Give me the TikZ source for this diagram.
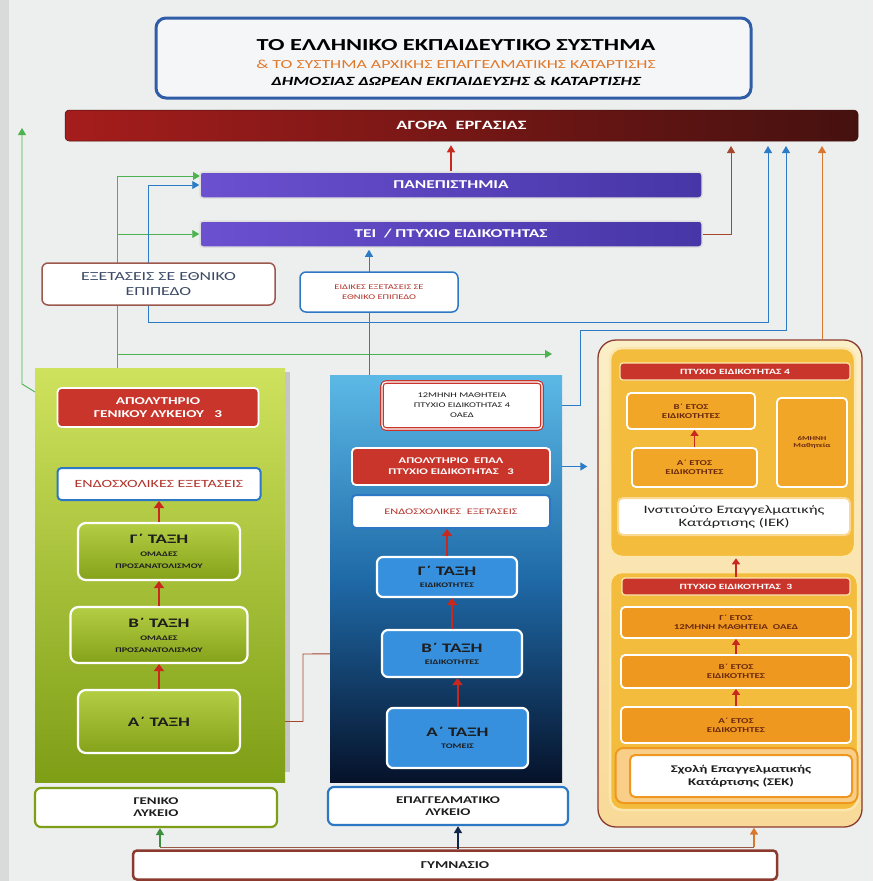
\documentclass[tikz,border=0pt]{standalone}
\usepackage{fontspec}
\setmainfont{Carlito}[FakeStretch=1.45]
\usetikzlibrary{arrows.meta}
\pgfdeclarelayer{back}
\pgfdeclarelayer{wires}
\pgfsetlayers{back,wires,main}

\definecolor{pagebg}{HTML}{EDEFEE}
\definecolor{edgegray}{HTML}{D9DADA}
\definecolor{titleblue}{HTML}{2F5DA8}
\definecolor{titlefill}{HTML}{F5F6F8}
\definecolor{titleorange}{HTML}{E0782A}
\definecolor{marketL}{HTML}{A51D1C}
\definecolor{marketR}{HTML}{45110F}
\definecolor{uniL}{HTML}{6B50D0}
\definecolor{uniR}{HTML}{4636A6}
\definecolor{boxred}{HTML}{C9352B}
\definecolor{greenT}{HTML}{CFE25E}
\definecolor{greenB}{HTML}{7E9E16}
\definecolor{grnboxT}{HTML}{B4CE44}
\definecolor{grnboxB}{HTML}{84A21A}
\definecolor{blueT}{HTML}{5CB9E6}
\definecolor{blueM}{HTML}{1F6AA8}
\definecolor{blueB}{HTML}{06122A}
\definecolor{bluebx}{HTML}{3690DE}
\definecolor{blueframe}{HTML}{2C78C4}
\definecolor{orbox}{HTML}{F2A628}
\definecolor{orboxdeep}{HTML}{EE9820}
\definecolor{yellowgrp}{HTML}{F4BC3C}
\definecolor{grpframe}{HTML}{FBE6AE}
\definecolor{creamfill}{HTML}{FBEFC8}
\definecolor{brownline}{HTML}{8C3A2E}
\definecolor{arrowred}{HTML}{C8281E}
\definecolor{wgreen}{HTML}{4CB350}
\definecolor{wblue}{HTML}{2B7BC6}
\definecolor{wbrown}{HTML}{A5472E}
\definecolor{worange}{HTML}{D8782E}
\definecolor{navyarrow}{HTML}{12264A}
\definecolor{textdark}{HTML}{1E1E1E}
\definecolor{textred}{HTML}{B2322A}
\definecolor{examtext}{HTML}{3B4A66}
\definecolor{ortext}{HTML}{6B2A0E}

\newcommand{\bxbig}{\fontsize{13}{14}\selectfont\bfseries}
\newcommand{\bxmid}{\fontsize{10.3}{12}\selectfont\bfseries}
\newcommand{\bxsmall}{\fontsize{7}{8.5}\selectfont\bfseries}
\newcommand{\bxtiny}{\fontsize{7.5}{9}\selectfont\bfseries}

\tikzset{every picture/.style={line width=0.75pt}}
\tikzset{
  sz/.style 2 args={minimum width=#1, minimum height=#2},
  bar/.style={rounded corners=4pt, inner sep=0pt, text=white, font=\fontsize{12}{13}\selectfont\bfseries},
  marketbar/.style={bar, left color=marketL, right color=marketR, draw=marketR, line width=0.5pt},
  unibar/.style={bar, left color=uniL, right color=uniR, draw=gray!25, line width=1.5pt, rounded corners=3pt},
  titlebox/.style={rounded corners=10pt, fill=titlefill, draw=titleblue, line width=3pt},
  notebox/.style={rounded corners=6pt, fill=white, align=center, inner sep=1pt},
  examsbox/.style={notebox, draw=brownline!85, line width=1.5pt, text=examtext, font=\fontsize{12.3}{15}\selectfont},
  specbox/.style={notebox, draw=blueframe, line width=1.5pt, text=textred, font=\fontsize{7.2}{10}\selectfont},
  endobox/.style={notebox, rounded corners=4pt, draw=blueframe, line width=2pt, text=textred, font=\fontsize{11}{12}\selectfont},
  redbox/.style={rounded corners=4pt, fill=boxred, draw=white, line width=1.8pt, text=white, align=center, inner sep=1pt, font=\fontsize{8.7}{11}\selectfont\bfseries},
  greenbox/.style={rounded corners=8pt, top color=grnboxT, bottom color=grnboxB, draw=white, line width=2.2pt, align=center, inner sep=1pt, text=textdark},
  bluebox/.style={rounded corners=6pt, fill=bluebx, draw=white, line width=2.2pt, align=center, inner sep=1pt, text=textdark},
  lykbox/.style={rounded corners=6pt, fill=white, line width=2.2pt, align=center, inner sep=1pt, text=textdark, font=\bxmid},
  orangebox/.style={rounded corners=4pt, fill=orbox, draw=white, line width=1.8pt, align=center, inner sep=1pt, text=ortext, font=\bxtiny},
  barsmall/.style={rounded corners=3pt, fill=boxred, draw=grpframe, line width=1.2pt, text=white, inner sep=0pt, font=\fontsize{8}{9}\selectfont\bfseries},
  wire/.style={line width=0.9pt, -{Triangle[width=8pt,length=7pt]}},
  upred/.style={draw=arrowred, line width=2pt, -{Triangle[width=10pt,length=7pt]}},
  upsmall/.style={draw=arrowred, line width=1.5pt, -{Triangle[width=8pt,length=6pt]}},
}

\begin{document}
\begin{tikzpicture}[x=1pt,y=1pt,yscale=-1,xscale=1]
\useasboundingbox (0,0) rectangle (873,881);
\begin{pgfonlayer}{back}
  \fill[pagebg] (0,0) rectangle (873,881);
  \fill[edgegray] (0,0) rectangle (9,881);
  %Shape: shadow of the left column
  \fill[gray!45] (280,372) rectangle (290,772);
\end{pgfonlayer}

%Shape: title frame
\node[titlebox, sz={595}{80}] (title) at (453.5,58) {};
% Text Node
\node[font=\fontsize{16.8}{18}\selectfont\bfseries] (titleA) at (456,45) {ΤΟ ΕΛΛΗΝΙΚΟ ΕΚΠΑΙΔΕΥΤΙΚΟ ΣΥΣΤΗΜΑ};
% Text Node
\node[text=titleorange, font=\fontsize{12.3}{14}\selectfont] (titleB) at (456,64) {\& ΤΟ ΣΥΣΤΗΜΑ ΑΡΧΙΚΗΣ ΕΠΑΓΓΕΛΜΑΤΙΚΗΣ ΚΑΤΑΡΤΙΣΗΣ};
% Text Node
\node[font=\fontsize{12.5}{14}\selectfont\bfseries\itshape] (titleC) at (456,81) {ΔΗΜΟΣΙΑΣ ΔΩΡΕΑΝ ΕΚΠΑΙΔΕΥΣΗΣ \& ΚΑΤΑΡΤΙΣΗΣ};

%Shape: bars on top
\node[marketbar, sz={793}{31}, font=\fontsize{12.7}{14}\selectfont\bfseries] (market) at (461.5,125.5) {ΑΓΟΡΑ~~ΕΡΓΑΣΙΑΣ};
\node[unibar, sz={502}{26}] (uni) at (451,185) {ΠΑΝΕΠΙΣΤΗΜΙΑ};
\node[unibar, sz={502}{26}] (tei) at (451,234) {ΤΕΙ~~/ ΠΤΥΧΙΟ ΕΙΔΙΚΟΤΗΤΑΣ};

%Shape: exams notes
\node[examsbox, sz={233}{42}] (exams) at (158.5,284) {ΕΞΕΤΑΣΕΙΣ ΣΕ ΕΘΝΙΚΟ\\ΕΠΙΠΕΔΟ};
\node[specbox, sz={158}{40}] (specexams) at (379,292) {ΕΙΔΙΚΕΣ ΕΞΕΤΑΣΕΙΣ ΣΕ\\ΕΘΝΙΚΟ ΕΠΙΠΕΔΟ};

%Shape: general lyceum column
\node[top color=greenT, bottom color=greenB, sz={250}{414}, inner sep=0pt] (greencol) at (160,575) {};
\node[redbox, sz={201}{39}, font=\fontsize{10.5}{12.5}\selectfont\bfseries] (genapol) at (158,407.5) {ΑΠΟΛΥΤΗΡΙΟ\\ΓΕΝΙΚΟΥ ΛΥΚΕΙΟΥ~~~3};
\node[endobox, sz={203}{32}] (genendo) at (159,484) {ΕΝΔΟΣΧΟΛΙΚΕΣ ΕΞΕΤΑΣΕΙΣ};
\node[greenbox, sz={162}{57}] (genC) at (159,551.5) {{\bxbig Γ΄ ΤΑΞΗ}\\[1pt]{\bxsmall ΟΜΑΔΕΣ}\\{\bxsmall ΠΡΟΣΑΝΑΤΟΛΙΣΜΟΥ}};
\node[greenbox, sz={177}{56}] (genB) at (159,635) {{\bxbig Β΄ ΤΑΞΗ}\\[1pt]{\bxsmall ΟΜΑΔΕΣ}\\{\bxsmall ΠΡΟΣΑΝΑΤΟΛΙΣΜΟΥ}};
\node[greenbox, sz={162}{63}] (genA) at (159,721.5) {\bxbig Α΄ ΤΑΞΗ};
\node[lykbox, draw=greenB, sz={242}{39}] (genlyk) at (156,807.5) {ΓΕΝΙΚΟ\\ΛΥΚΕΙΟ};

%Shape: vocational lyceum column
\node[top color=blueT, bottom color=blueB, middle color=blueM, sz={232}{407}, inner sep=0pt] (bluecol) at (446,578.5) {};
\node[notebox, rounded corners=4pt, draw=boxred, double=white, double distance=1.2pt, line width=1.2pt, sz={160}{47}, text=textdark, font=\fontsize{7.2}{10}\selectfont] (mathiteia) at (462,405.5) {12ΜΗΝΗ ΜΑΘΗΤΕΙΑ\\ΠΤΥΧΙΟ ΕΙΔΙΚΟΤΗΤΑΣ 4\\ΟΑΕΔ};
\node[redbox, sz={198}{37}] (epalapol) at (451,466.5) {ΑΠΟΛΥΤΗΡΙΟ~~ΕΠΑΛ\\ΠΤΥΧΙΟ ΕΙΔΙΚΟΤΗΤΑΣ~~~3};
\node[endobox, sz={198}{33}, font=\fontsize{8.5}{10}\selectfont] (epalendo) at (451,511.5) {ΕΝΔΟΣΧΟΛΙΚΕΣ~~ΕΞΕΤΑΣΕΙΣ};
\node[bluebox, sz={140}{40}] (epalC) at (447,577) {{\bxbig Γ΄ ΤΑΞΗ}\\{\bxsmall ΕΙΔΙΚΟΤΗΤΕΣ}};
\node[bluebox, sz={140}{47}] (epalB) at (452,653.5) {{\bxbig Β΄ ΤΑΞΗ}\\{\bxsmall ΕΙΔΙΚΟΤΗΤΕΣ}};
\node[bluebox, sz={141}{60}] (epalA) at (457.5,738) {{\bxbig Α΄ ΤΑΞΗ}\\{\bxsmall ΤΟΜΕΙΣ}};
\node[lykbox, draw=blueframe, sz={240}{38}] (epallyk) at (448,806) {ΕΠΑΓΓΕΛΜΑΤΙΚΟ\\ΛΥΚΕΙΟ};

%Shape: gymnasium
\node[lykbox, rounded corners=4pt, draw=brownline, line width=2.5pt, sz={644}{29}, font=\fontsize{10.5}{12}\selectfont\bfseries] (gym) at (455,865) {ΓΥΜΝΑΣΙΟ};

%Shape: vocational training column
\node[rounded corners=18pt, top color=creamfill, bottom color=creamfill!70!orbox, draw=brownline, line width=1.3pt, sz={264}{487}, inner sep=0pt] (rcol) at (730,583.5) {};
\node[rounded corners=12pt, fill=yellowgrp, draw=grpframe, line width=2.5pt, sz={245}{209}, inner sep=0pt] (iekgrp) at (732.5,452.5) {};
\node[barsmall, sz={230}{17}] (iekbar) at (735,371.5) {ΠΤΥΧΙΟ ΕΙΔΙΚΟΤΗΤΑΣ 4};
\node[orangebox, sz={128}{36}] (iekB) at (691,411) {Β΄ ΕΤΟΣ\\ΕΙΔΙΚΟΤΗΤΕΣ};
\node[orangebox, sz={125}{39}] (iekA) at (694.5,467.5) {Α΄ ΕΤΟΣ\\ΕΙΔΙΚΟΤΗΤΕΣ};
\node[orangebox, sz={70}{89}, font=\fontsize{6}{7}\selectfont\bfseries] (iek6) at (812,442.5) {6ΜΗΝΗ\\Μαθητεία};
\node[notebox, rounded corners=5pt, draw=grpframe!80!orbox, line width=2pt, sz={232}{37}, text=textdark, font=\fontsize{11.3}{13}\selectfont] (iekname) at (734,516.5) {Ινστιτούτο Επαγγελματικής\\Κατάρτισης (ΙΕΚ)};

\node[rounded corners=12pt, fill=yellowgrp, draw=grpframe, line width=2.5pt, sz={248}{238}, inner sep=0pt] (sekgrp) at (734,691) {};
\node[barsmall, sz={228}{17}] (sekbar) at (736,586.5) {ΠΤΥΧΙΟ ΕΙΔΙΚΟΤΗΤΑΣ~~3};
\node[orangebox, fill=orboxdeep, sz={230}{31}] (sekC) at (736,622.5) {Γ΄ ΕΤΟΣ\\12ΜΗΝΗ ΜΑΘΗΤΕΙΑ~~ΟΑΕΔ};
\node[orangebox, fill=orboxdeep, sz={230}{33}] (sekB) at (736,671.5) {Β΄ ΕΤΟΣ\\ΕΙΔΙΚΟΤΗΤΕΣ};
\node[orangebox, fill=orboxdeep, sz={230}{36}] (sekA) at (736,725) {Α΄ ΕΤΟΣ\\ΕΙΔΙΚΟΤΗΤΕΣ};
\node[rounded corners=8pt, fill=orbox!55!white, draw=orboxdeep, line width=2pt, sz={242}{55}, inner sep=0pt] (sekframe) at (736.5,775.5) {};
\node[notebox, rounded corners=5pt, draw=orboxdeep, line width=2pt, sz={222}{42}, text=textdark, font=\fontsize{10.2}{12.5}\selectfont\bfseries] (sekname) at (741,776) {Σχολή Επαγγελματικής\\Κατάρτισης (ΣΕΚ)};

% connector ends
\coordinate (mkA) at (731,141);
\coordinate (mkB) at (768,141);
\coordinate (mkC) at (786,141);
\coordinate (mkD) at (822,141);
\coordinate (gUp) at (117,368);
\coordinate (gEnd) at (552,354);
\coordinate (gUni) at (200,176);
\coordinate (gTop) at (22,128);
\coordinate (gBend) at (22,384);
\coordinate (gSide) at (35,392);
\coordinate (bJoin) at (148,322);
\coordinate (bEpal) at (369,448);
\coordinate (bKnee) at (580,330);
\coordinate (rKnee) at (303,654);
\coordinate (busL) at (160,847);
\coordinate (busM) at (458,847);
\coordinate (busR) at (754,847);

\begin{pgfonlayer}{wires}
  %Straight Lines: green
  \draw[wire, draw=wgreen] (gSide) -- (gBend) -- (gTop);
  \draw[wire, draw=wgreen] (gUp) |- (gUni);
  \draw[wire, draw=wgreen] (gUp) |- (tei.west);
  \draw[wire, draw=wgreen] (gUp |- gEnd) -- (gEnd);
  %Straight Lines: blue
  \draw[wire, draw=wblue] (bJoin) |- (uni.west);
  \draw[wire, draw=wblue, shorten >=5pt] (bJoin) -| (mkB);
  \draw[wire, draw=wblue, shorten >=2pt] (bEpal) -- (bEpal |- tei.south);
  \draw[wire, draw=wblue, shorten >=5pt] (mathiteia.east) -| (bKnee) -| (mkC);
  \draw[wire, draw=wblue, line width=1.3pt, shorten >=10pt] (epalapol.east) -- (epalapol.east -| rcol.west);
  %Straight Lines: brown and orange
  \draw[wire, draw=wbrown, shorten >=5pt] (tei.east) -| (mkA);
  \draw[wire, draw=worange, shorten >=5pt] (mkD |- rcol.north) -- (mkD);
  \draw[wire, draw=wbrown] (genA.east) -| (rKnee) -- (epalB.west);
  \draw[wire, draw=arrowred, line width=1.2pt, shorten >=4pt] (uni.north) -- (uni.north |- market.south);
  %Straight Lines: from the gymnasium
  \draw[line width=1pt, draw=wbrown!70!gray] (busL) -- (busR);
  \draw[wire, draw=wgreen!80!black, line width=1.6pt] (busL) -- (busL |- genlyk.south);
  \draw[wire, draw=navyarrow, line width=1.6pt] (busM |- gym.north) -- (busM |- epallyk.south);
  \draw[wire, draw=worange, line width=1.6pt] (busR) -- (busR |- rcol.south);
\end{pgfonlayer}

%Straight Lines: steps inside the columns
\draw[upred] (genC.north) -- (genendo.south);
\draw[upred] (genB.north) -- (genC.south);
\draw[upred] (genA.north) -- (genB.south);
\draw[upred] (epalC.north) -- (epalC.north |- epalendo.south);
\draw[upred] (epalB.north) -- (epalB.north |- epalC.south);
\draw[upred] (epalA.north) -- (epalA.north |- epalB.south);
\draw[upsmall] (iekA.north) -- (iekA.north |- iekB.south);
\draw[upsmall] (sekbar.north) -- (sekbar.north |- iekgrp.south);
\draw[upsmall] (sekB.north) -- (sekB.north |- sekC.south);
\draw[upsmall] (sekA.north) -- (sekA.north |- sekB.south);

\end{tikzpicture}
\end{document}
